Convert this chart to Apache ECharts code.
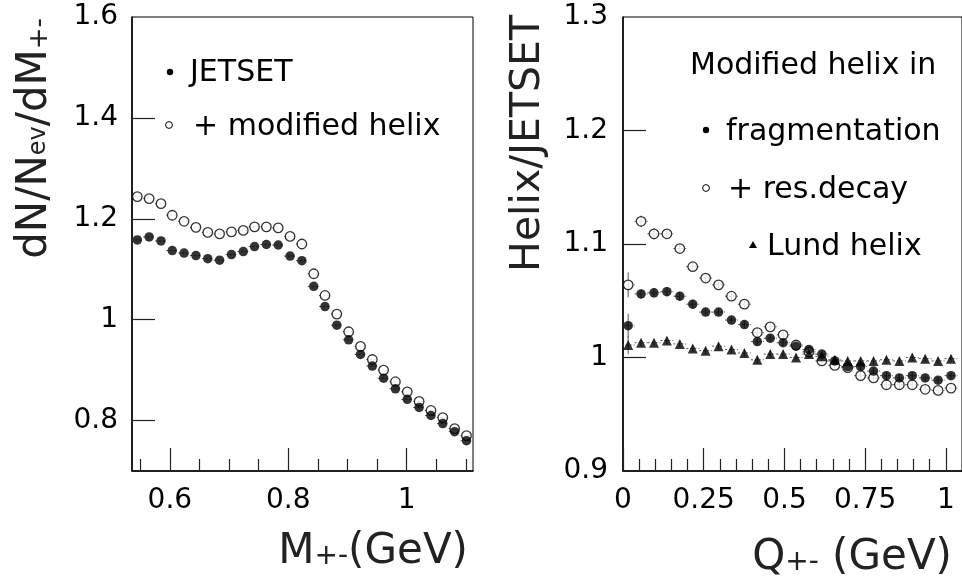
<!DOCTYPE html>
<html>
<head>
<meta charset="utf-8">
<style>
  html, body { margin: 0; padding: 0; background: #fff; }
  #chart { width: 962px; height: 581px; }
</style>
<script src="https://cdn.jsdelivr.net/npm/echarts@6/dist/echarts.min.js"></script>
</head>
<body>
<div id="chart"></div>
<script>
// ---- Left panel: invariant mass distribution dN/Nev/dM(+-) ----
const massBins = [0.545, 0.565, 0.585, 0.604, 0.624, 0.644, 0.664, 0.684, 0.704, 0.724,
                  0.743, 0.763, 0.783, 0.803, 0.823, 0.843, 0.862, 0.882, 0.902, 0.922,
                  0.942, 0.961, 0.981, 1.001, 1.021, 1.041, 1.061, 1.081, 1.101];
const jetsetMass = [1.158, 1.164, 1.156, 1.137, 1.132, 1.127, 1.121, 1.118, 1.129, 1.135,
                    1.145, 1.149, 1.148, 1.126, 1.117, 1.066, 1.026, 0.989, 0.960, 0.931,
                    0.908, 0.884, 0.863, 0.842, 0.826, 0.810, 0.794, 0.778, 0.760];
const helixMass = [1.244, 1.240, 1.230, 1.207, 1.195, 1.183, 1.173, 1.170, 1.174, 1.177,
                   1.184, 1.184, 1.182, 1.165, 1.150, 1.091, 1.048, 1.011, 0.976, 0.947,
                   0.921, 0.900, 0.877, 0.857, 0.838, 0.820, 0.806, 0.784, 0.770];
const massHalfWidth = 0.01;

// ---- Right panel: ratio Helix/JETSET vs Q(+-) ----
const qBins = [0.016, 0.056, 0.096, 0.136, 0.176, 0.216, 0.256, 0.296, 0.336, 0.376,
               0.416, 0.456, 0.496, 0.536, 0.576, 0.616, 0.656, 0.696, 0.736, 0.776,
               0.816, 0.856, 0.896, 0.936, 0.976, 1.016];
const ratioFrag = [1.028, 1.056, 1.057, 1.058, 1.054, 1.047, 1.040, 1.040, 1.033, 1.029,
                   1.014, 1.017, 1.013, 1.010, 1.007, 1.003, 0.997, 0.992, 0.992, 0.988,
                   0.984, 0.982, 0.984, 0.982, 0.980, 0.984];
const ratioResDecay = [1.064, 1.120, 1.109, 1.109, 1.096, 1.080, 1.070, 1.064, 1.054, 1.047,
                       1.022, 1.027, 1.020, 1.011, 1.005, 0.997, 0.993, 0.991, 0.984, 0.982,
                       0.976, 0.976, 0.976, 0.972, 0.971, 0.973];
const ratioLund = [1.011, 1.013, 1.013, 1.015, 1.012, 1.008, 1.006, 1.010, 1.007, 1.004,
                   0.998, 1.003, 1.003, 1.000, 1.003, 1.001, 0.998, 0.997, 0.997, 0.997,
                   0.998, 0.997, 1.000, 0.999, 0.997, 0.999];
const errFrag = [0.0105, 0.004, 0.004, 0.004, 0.004, 0.004, 0.003, 0.003, 0.003, 0.003,
                 0.003, 0.003, 0.003, 0.003, 0.003, 0.003, 0.003, 0.003, 0.003, 0.003,
                 0.003, 0.003, 0.003, 0.003, 0.003, 0.003];
const errResDecay = [0.011, 0.005, 0.005, 0.004, 0.004, 0.004, 0.004, 0.003, 0.003, 0.003,
                     0.003, 0.003, 0.003, 0.003, 0.003, 0.003, 0.003, 0.003, 0.003, 0.003,
                     0.003, 0.003, 0.003, 0.003, 0.003, 0.003];
const errLund = [0.008, 0.003, 0.003, 0.003, 0.003, 0.003, 0.003, 0.003, 0.003, 0.003,
                 0.003, 0.003, 0.003, 0.003, 0.003, 0.003, 0.003, 0.003, 0.003, 0.003,
                 0.003, 0.003, 0.003, 0.003, 0.003, 0.003];
const qHalfWidth = 0.02;

// ---- Axis ticks and labels ----
const massMajor = [0.6, 0.8, 1.0];
const massMinor = [0.55, 0.65, 0.7, 0.75, 0.85, 0.9, 0.95, 1.05, 1.1];
const densityTicks = [0.8, 1.0, 1.2, 1.4, 1.6];
const qMajor = [0, 0.25, 0.5, 0.75, 1.0];
const qMinor = [0.05, 0.1, 0.15, 0.2, 0.3, 0.35, 0.4, 0.45, 0.55, 0.6, 0.65, 0.7, 0.8, 0.85, 0.9, 0.95];
const ratioTicks = [0.9, 1.0, 1.1, 1.2, 1.3];

const leftNames = ['JETSET', '+ modified helix'];
const rightHeader = 'Modified helix in';
const rightNames = ['fragmentation', '+ res.decay', 'Lund helix'];

const FONT = 'DejaVu Sans';
const fmt = v => String(+(+v).toFixed(2));

function pairs(xs, ys) { return xs.map((x, i) => [x, ys[i]]); }
function errData(xs, ys, errs, hw) { return xs.map((x, i) => [x, ys[i], errs ? errs[i] : 0, hw]); }

// horizontal bin-width bars (dotted) plus vertical statistical errors
function renderErrors(params, api) {
  const x = api.value(0), y = api.value(1), e = api.value(2), hw = api.value(3);
  const l = api.coord([x - hw, y]);
  const r = api.coord([x + hw, y]);
  const children = [{
    type: 'line',
    shape: { x1: l[0], y1: l[1], x2: r[0], y2: r[1] },
    style: { stroke: '#555', lineWidth: 1, lineDash: [2, 2] }
  }];
  if (e > 0) {
    const t = api.coord([x, y + e]);
    const b = api.coord([x, y - e]);
    children.push({
      type: 'line',
      shape: { x1: t[0], y1: t[1], x2: b[0], y2: b[1] },
      style: { stroke: '#555', lineWidth: 1 }
    });
  }
  return { type: 'group', children };
}

function errSeries(xi, yi, data) {
  return { type: 'custom', xAxisIndex: xi, yAxisIndex: yi, renderItem: renderErrors,
           data, clip: true, silent: true, z: 1 };
}

const filledStyle = { color: '#000' };
const openStyle = { color: '#fff', borderColor: '#000', borderWidth: 1.3 };

function labelStyle(values, margin) {
  return { show: true, customValues: values, formatter: fmt, color: '#000',
           fontFamily: FONT, fontSize: 28, margin };
}
function majorAxis(grid, min, max, ticks, labels, margin) {
  return {
    type: 'value', gridIndex: grid, min, max,
    axisLine: { show: true, onZero: false, lineStyle: { color: '#000', width: 1.5 } },
    axisTick: { show: true, inside: true, length: 23, customValues: ticks,
                lineStyle: { color: '#222', width: 1.2 } },
    axisLabel: labelStyle(labels, margin),
    splitLine: { show: false }
  };
}
function minorAxis(grid, min, max, ticks) {
  return {
    type: 'value', gridIndex: grid, min, max, position: 'bottom',
    axisLine: { show: false },
    axisTick: { show: true, inside: true, length: 12, customValues: ticks,
                lineStyle: { color: '#222', width: 1.2 } },
    axisLabel: { show: false },
    splitLine: { show: false }
  };
}

// Axis titles with subscripts: pieces laid out one after another along the reading direction.
const measureCtx = document.createElement('canvas').getContext('2d');
function textWidth(text, size) {
  measureCtx.font = size + 'px "' + FONT + '"';
  return measureCtx.measureText(text).width;
}
// pieces: [text, fontSize, offset across the reading direction]
function titleGroup(x, y, rotation, pieces) {
  const total = pieces.reduce((s, p) => s + textWidth(p[0], p[1]), 0);
  let cursor = -total;
  const children = pieces.map(p => {
    const el = { type: 'text', x: cursor, y: p[2],
                 style: { text: p[0], fill: '#222', fontFamily: FONT, fontSize: p[1],
                          align: 'left', verticalAlign: 'middle',
                          textAlign: 'left', textVerticalAlign: 'middle' } };
    cursor += textWidth(p[0], p[1]);
    return el;
  });
  return { type: 'group', x, y, rotation, children };
}

function legendText(x, y, text) {
  return { type: 'text', x, y,
           style: { text, fill: '#000', fontFamily: FONT, fontSize: 30,
                    align: 'left', verticalAlign: 'middle',
                    textAlign: 'left', textVerticalAlign: 'middle' } };
}

const option = {
  animation: false,
  backgroundColor: '#fff',
  grid: [
    { left: 132, top: 17, width: 341, height: 454, show: true,
      borderColor: '#000', borderWidth: 1, backgroundColor: 'transparent' },
    { left: 623, top: 17, width: 344.4, height: 454, show: true,
      borderColor: '#000', borderWidth: 1, backgroundColor: 'transparent' }
  ],
  xAxis: [
    majorAxis(0, 0.536, 1.112, massMajor, massMajor, 16),
    minorAxis(0, 0.536, 1.112, massMinor),
    majorAxis(1, 0, 1.05, qMajor, qMajor, 16),
    minorAxis(1, 0, 1.05, qMinor)
  ],
  yAxis: [
    majorAxis(0, 0.7, 1.6, densityTicks.slice(0, 4), densityTicks, 14),
    majorAxis(1, 0.9, 1.3, ratioTicks.slice(1, 4), ratioTicks, 15)
  ],
  series: [
    errSeries(0, 0, errData(massBins, helixMass, null, massHalfWidth)),
    errSeries(0, 0, errData(massBins, jetsetMass, null, massHalfWidth)),
    { name: leftNames[1], type: 'scatter', xAxisIndex: 0, yAxisIndex: 0, symbol: 'circle',
      symbolSize: 9.5, itemStyle: openStyle, data: pairs(massBins, helixMass), z: 2 },
    { name: leftNames[0], type: 'scatter', xAxisIndex: 0, yAxisIndex: 0, symbol: 'circle',
      symbolSize: 9.5, itemStyle: filledStyle, data: pairs(massBins, jetsetMass), z: 3 },

    errSeries(2, 1, errData(qBins, ratioResDecay, errResDecay, qHalfWidth)),
    errSeries(2, 1, errData(qBins, ratioLund, errLund, qHalfWidth)),
    errSeries(2, 1, errData(qBins, ratioFrag, errFrag, qHalfWidth)),
    { name: rightNames[1], type: 'scatter', xAxisIndex: 2, yAxisIndex: 1, symbol: 'circle',
      symbolSize: 9.5, itemStyle: openStyle, data: pairs(qBins, ratioResDecay), z: 2 },
    { name: rightNames[2], type: 'scatter', xAxisIndex: 2, yAxisIndex: 1, symbol: 'triangle',
      symbolSize: 10, itemStyle: filledStyle, data: pairs(qBins, ratioLund), z: 3 },
    { name: rightNames[0], type: 'scatter', xAxisIndex: 2, yAxisIndex: 1, symbol: 'circle',
      symbolSize: 9.5, itemStyle: filledStyle, data: pairs(qBins, ratioFrag), z: 4 }
  ],
  graphic: [
    // left legend
    { type: 'circle', shape: { cx: 170, cy: 72, r: 3.2 }, style: { fill: '#000' } },
    legendText(190, 73, leftNames[0]),
    { type: 'circle', shape: { cx: 169, cy: 125, r: 3.4 }, style: { fill: '#fff', stroke: '#000', lineWidth: 1 } },
    legendText(193, 127, leftNames[1]),
    // right legend
    legendText(690, 66, rightHeader),
    { type: 'circle', shape: { cx: 706, cy: 130, r: 3.2 }, style: { fill: '#000' } },
    legendText(726, 132, rightNames[0]),
    { type: 'circle', shape: { cx: 706, cy: 188, r: 3.4 }, style: { fill: '#fff', stroke: '#000', lineWidth: 1 } },
    legendText(728, 190, rightNames[1]),
    { type: 'polygon', shape: { points: [[753, 241], [757, 248], [749, 248]] }, style: { fill: '#000' } },
    legendText(767, 247, rightNames[2]),

    // axis titles
    titleGroup(35.5, 18, Math.PI / 2,
      [['dN/N', 42, 0], ['ev', 24, 3], ['/dM', 42, 0], ['+-', 26, 4.5]]),
    titleGroup(528, 15, Math.PI / 2, [['Helix/JETSET', 41, 0]]),
    titleGroup(468, 552.5, 0, [['M', 42, 0], ['+-', 28, 4.5], ['(GeV)', 42, 0]]),
    titleGroup(952, 558.5, 0, [['Q', 42, 0], ['+-', 28, 4.5], [' (GeV)', 42, 0]])
  ]
};

const chart = echarts.init(document.getElementById('chart'), null, { renderer: 'canvas' });
chart.setOption(option);
</script>
</body>
</html>
